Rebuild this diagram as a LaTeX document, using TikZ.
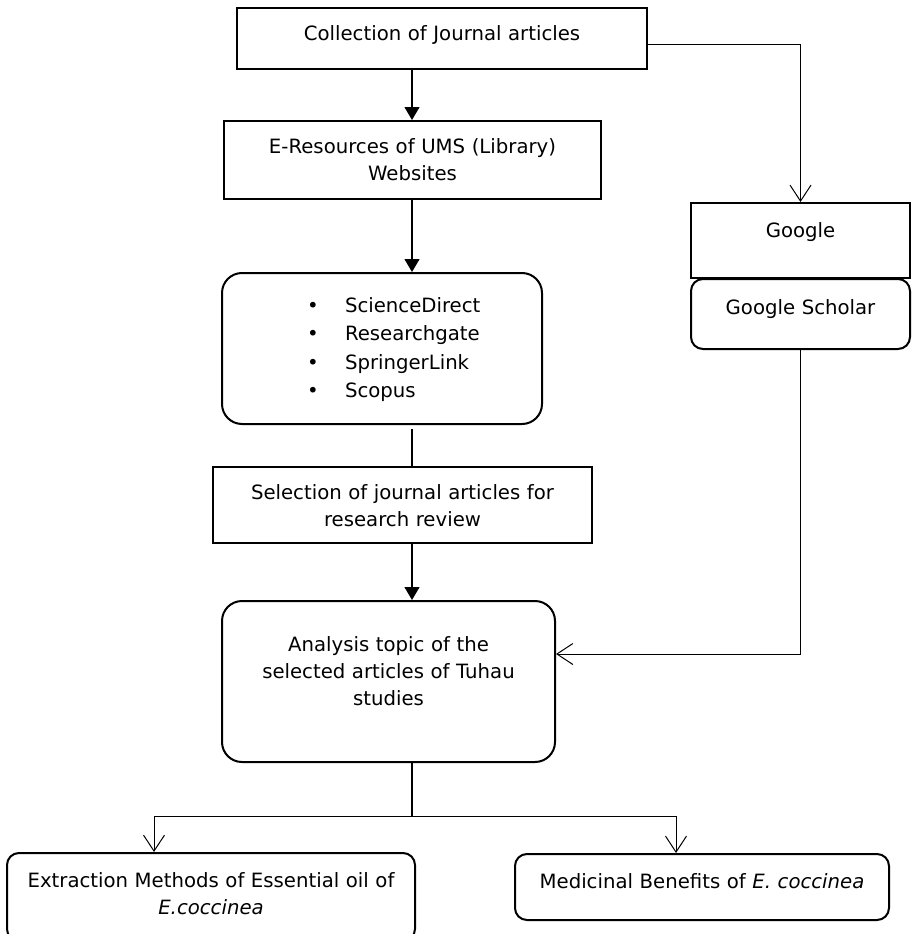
\documentclass[tikz,border=0pt]{standalone}
\usepackage{fontspec}
\setmainfont{DejaVu Sans}
\usetikzlibrary{positioning,arrows.meta}

\newcommand{\bulletItem}[1]{\hspace*{85pt}\makebox[38pt][l]{\textbullet}#1}

\begin{document}
\begin{tikzpicture}[x=1pt, y=-1pt, font=\fontsize{19.7}{27}\selectfont]

    %
    % Styles for boxes, and connectors
    %
    \tikzstyle{object} = [draw, line width=2pt, rectangle, fill=white, align=center,
                          anchor=north, inner sep=0pt, text=black];
    \tikzstyle{roundObject} = [object, rounded corners=20pt];
    \tikzstyle{smallRound} = [object, rounded corners=12pt];
    \tikzstyle{plainLine} = [black, line width=1.2pt];
    \tikzstyle{mainFlow} = [plainLine, -{Triangle[length=13pt, width=15pt]}];
    \tikzstyle{sideFlow} = [black, line width=1pt, -{Straight Barb[length=16pt, width=21pt]}];

    \fill[white] (0,0) rectangle (911,934);
    \useasboundingbox (0,0) rectangle (911,934);

    %
    % Position boxes
    %
    \node[object, name=collect, text width=410pt, text height=33pt, text depth=28pt]
      at (442,7) {Collection of Journal articles};
    \node[object, name=eres, text width=377pt, text height=32pt, text depth=46pt]
      at (412.5,120) {E-Resources of UMS (Library)\\Websites};
    \node[roundObject, name=bullets, align=left, text width=320pt, text height=39.5pt, text depth=111.5pt,
          font=\fontsize{19.7}{28.3}\selectfont]
      at (382,272) {\bulletItem{ScienceDirect}\\\bulletItem{Researchgate}\\\bulletItem{SpringerLink}\\\bulletItem{Scopus}};
    \node[object, name=select, text width=379pt, text height=32pt, text depth=44pt]
      at (402.5,466) {Selection of journal articles for\\research review};
    \node[roundObject, name=analysis, text width=333pt, text height=50pt, text depth=111pt]
      at (388.5,600) {Analysis topic of the\\selected articles of Tuhau\\studies};

    \node[object, name=google, text width=219pt, text height=34.7pt, text depth=40.3pt]
      at (800.5,202) {Google};
    \node[smallRound, name=scholar, text width=219pt, text height=35pt, text depth=35pt]
      at (800.5,278) {Google Scholar};

    \node[smallRound, name=extract, text width=408pt, text height=34.7pt, text depth=53.3pt]
      at (211,852) {Extraction Methods of Essential oil of\\\textit{E.coccinea}};
    \node[smallRound, name=medicinal, text width=374pt, text height=34pt, text depth=32pt]
      at (702,853) {Medicinal Benefits of \textit{E. coccinea}};

    \coordinate (spine) at (412,0);
    \coordinate (split) at (412,816);

    %
    % Connect boxes via lines
    %
    \draw[mainFlow] (collect.south -| spine) -- (eres.north -| spine);
    \draw[mainFlow] (eres.south -| spine) -- (bullets.north -| spine);
    \draw[plainLine, shorten <=4pt] (bullets.south -| spine) -- (select.north -| spine);
    \draw[mainFlow] (select.south -| spine) -- (analysis.north -| spine);

    \draw[plainLine] (analysis.south -| spine) -- (split);
    \draw[sideFlow] (split) -| ([xshift=-57pt]extract.north);
    \draw[sideFlow] (split) -| ([xshift=-26pt]medicinal.north);

    \draw[sideFlow] ([yshift=-6.5pt]collect.east) -| (google.north);
    \draw[sideFlow] (scholar.south) |- ([yshift=27.5pt]analysis.east);
  \end{tikzpicture}
\end{document}
